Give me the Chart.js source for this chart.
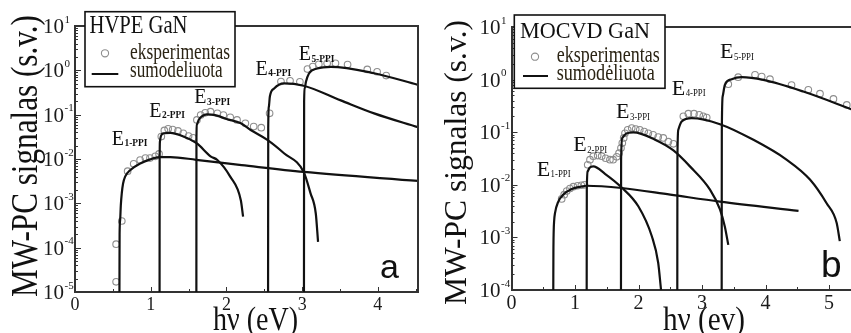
<!DOCTYPE html>
<html>
<head>
<meta charset="utf-8">
<title>MW-PC signalas</title>
<script src="https://cdn.jsdelivr.net/npm/chart.js@4.4.1/dist/chart.umd.min.js"></script>
<style>
  html, body { margin: 0; padding: 0; background: #fff; width: 851px; height: 333px; overflow: hidden; }
  canvas { position: absolute; top: 0; }
  #hvpe { left: 0; }
  #mocvd { left: 425px; }
</style>
</head>
<body>
<canvas id="hvpe" width="430" height="333"></canvas>
<canvas id="mocvd" width="440" height="333"></canvas>
<script>
// ---- HVPE GaN (a) ----  [hv eV, signal]
const hvpeExp = [
  [0.543, 1.7e-5], [0.543, 1.2e-4], [0.618, 4e-4], [0.695, 5.3e-3], [0.775, 7.8e-3],
  [0.86, 9.5e-3], [0.93, 1.05e-2], [0.99, 1.05e-2], [1.06, 1.15e-2], [1.11, 1.3e-2],
  [1.14, 0.032], [1.18, 0.044], [1.23, 0.048], [1.29, 0.046], [1.36, 0.043],
  [1.43, 0.038], [1.50, 0.033], [1.56, 0.030],
  [1.61, 0.076], [1.66, 0.098], [1.72, 0.11], [1.79, 0.117], [1.88, 0.107], [1.96, 0.098],
  [2.05, 0.087], [2.14, 0.076], [2.25, 0.064], [2.36, 0.054], [2.46, 0.051],
  [2.57, 0.107], [2.72, 0.56], [2.84, 0.58], [2.97, 0.55],
  [3.07, 1.07], [3.14, 1.22], [3.22, 1.37], [3.33, 1.44], [3.44, 1.44], [3.60, 1.35],
  [3.86, 1.05], [3.99, 0.93], [4.11, 0.76]
];
const hvpeE1 = [
  [0.587, 1e-5], [0.589, 2e-4], [0.596, 4.2e-4], [0.605, 9e-4], [0.618, 1.7e-3], [0.635, 2.8e-3],
  [0.662, 4e-3], [0.728, 5.6e-3], [0.861, 7.9e-3], [0.993, 9.8e-3], [1.12, 1.1e-2], [1.26, 1.1e-2],
  [1.6, 9.6e-3], [2.2, 7.3e-3], [3.02, 5.1e-3], [4.53, 3.2e-3]
];
const hvpeE2 = [
  [1.117, 1e-5], [1.118, 1e-2], [1.122, 2.5e-2], [1.135, 3.3e-2], [1.17, 3.8e-2], [1.26, 3.9e-2],
  [1.4, 3.4e-2], [1.61, 2.24e-2], [1.79, 1.15e-2], [1.88, 9.5e-3], [2.05, 4e-3], [2.19, 1.17e-3], [2.22, 5e-4]
];
const hvpeE3 = [
  [1.603, 1e-5], [1.604, 3e-2], [1.61, 6e-2], [1.633, 7.6e-2], [1.68, 9.3e-2], [1.74, 0.102],
  [1.85, 0.098], [2.0, 0.08], [2.19, 0.064], [2.32, 0.045], [2.54, 0.027], [2.76, 0.0135],
  [3.02, 5.1e-3], [3.11, 1.7e-3], [3.18, 5.9e-4], [3.21, 1.35e-4]
];
const hvpeE4 = [
  [2.55, 1e-5], [2.552, 0.05], [2.56, 0.15], [2.574, 0.26], [2.63, 0.39], [2.76, 0.51],
  [3.02, 0.45], [3.51, 0.21], [3.95, 0.107], [4.53, 0.052]
];
const hvpeE5 = [
  [3.024, 1e-5], [3.026, 0.2], [3.035, 0.4], [3.05, 0.55], [3.09, 0.85], [3.2, 1.1],
  [3.38, 1.2], [3.95, 0.86], [4.53, 0.47]
];
const hvpeXTicks = [0, 1, 2, 3, 4];
const hvpeDecades = [-5, -4, -3, -2, -1, 0, 1];
const hvpeLevels = ['1-PPI', '2-PPI', '3-PPI', '4-PPI', '5-PPI'];
const hvpeLevelAt = [[0.486, 0.0207], [0.98, 0.09], [1.576, 0.183], [2.384, 0.785], [2.954, 1.71]];

// ---- MOCVD GaN (b) ----
const mocvdExp = [
  [0.79, 5.4e-3], [0.83, 6.5e-3], [0.87, 7.6e-3], [0.92, 8.5e-3], [0.975, 9.2e-3],
  [1.04, 9.6e-3], [1.1, 9.8e-3], [1.15, 1.0e-2],
  [1.2, 0.024], [1.236, 0.030], [1.288, 0.035], [1.357, 0.036], [1.42, 0.035], [1.483, 0.032],
  [1.55, 0.030], [1.60, 0.030], [1.657, 0.034], [1.693, 0.040],
  [1.724, 0.05], [1.745, 0.062], [1.767, 0.078], [1.787, 0.095], [1.83, 0.111], [1.893, 0.12],
  [1.956, 0.115], [2.02, 0.111], [2.09, 0.103], [2.155, 0.095], [2.23, 0.089], [2.31, 0.081],
  [2.39, 0.078], [2.47, 0.066], [2.55, 0.06],
  [2.706, 0.2], [2.785, 0.225], [2.874, 0.225], [2.957, 0.214], [3.02, 0.2], [3.074, 0.19],
  [3.414, 0.82], [3.57, 1.11], [3.835, 1.23], [3.94, 1.14], [4.07, 1.02], [4.41, 0.79],
  [4.674, 0.64], [4.858, 0.54], [5.07, 0.43], [5.28, 0.33]
];
const mocvdE1 = [
  [0.658, 1e-4], [0.66, 5e-4], [0.664, 1.25e-3], [0.672, 2.1e-3], [0.685, 2.9e-3], [0.737, 4.8e-3],
  [0.816, 6.5e-3], [0.948, 8.3e-3], [1.105, 9.3e-3], [1.18, 9.6e-3], [1.735, 8.7e-3],
  [2.5, 6.5e-3], [3.28, 4.8e-3], [4.52, 3.2e-3]
];
const mocvdE2 = [
  [1.184, 1e-4], [1.186, 8e-3], [1.2, 1.8e-2], [1.23, 2.1e-2], [1.288, 2.24e-2], [1.472, 1.62e-2],
  [1.735, 8.9e-3], [1.997, 3.9e-3], [2.21, 1.05e-3], [2.31, 3.3e-4], [2.355, 1e-4]
];
const mocvdE3 = [
  [1.724, 1e-4], [1.726, 3e-2], [1.745, 7.8e-2], [1.8, 9.3e-2], [1.918, 9.9e-2], [2.26, 7.2e-2],
  [2.55, 4.5e-2], [2.81, 2.24e-2], [3.126, 8.1e-3], [3.283, 3.4e-3], [3.36, 1.6e-3], [3.414, 7.2e-4]
];
const mocvdE4 = [
  [2.611, 1e-4], [2.613, 3e-2], [2.627, 0.111], [2.68, 0.16], [2.838, 0.185], [3.283, 0.142],
  [3.81, 0.0716], [4.33, 0.0302], [4.7, 0.0126], [4.96, 4.5e-3], [5.12, 1.9e-3], [5.17, 8.5e-4]
];
const mocvdE5 = [
  [3.31, 1e-4], [3.312, 0.1], [3.326, 0.48], [3.36, 0.79], [3.468, 1.02], [3.625, 1.11],
  [3.965, 0.986], [4.595, 0.593], [5.4, 0.26]
];
const mocvdXTicks = [0, 1, 2, 3, 4, 5];
const mocvdDecades = [-4, -3, -2, -1, 0, 1];
const mocvdLevels = ['1-PPI', '2-PPI', '3-PPI', '4-PPI', '5-PPI'];
const mocvdLevelAt = [[0.396, 0.0149], [0.973, 0.043], [1.646, 0.185], [2.523, 0.513], [3.283, 2.55]];

// first installed serif face (width probe against monospace)
function pickSerif(names) {
  const c = document.createElement('canvas').getContext('2d');
  const probe = 'MWmwilGaN (s.v.) 0123456789';
  c.font = '40px monospace';
  const base = c.measureText(probe).width;
  for (const n of names) {
    c.font = '40px "' + n + '", monospace';
    if (Math.abs(c.measureText(probe).width - base) > 0.5) return '"' + n + '", serif';
  }
  return 'serif';
}
const SERIF = pickSerif(['Liberation Serif', 'Times New Roman', 'DejaVu Serif', 'Noto Serif']);
const SANS = '"Liberation Sans", Arial, sans-serif';
Chart.defaults.font.family = SERIF;

const toXY = pts => pts.map(([x, y]) => ({ x, y }));

function curve(pts) {
  return {
    data: toXY(pts), borderColor: '#111', borderWidth: 2.2, pointRadius: 0,
    cubicInterpolationMode: 'monotone', fill: false, order: 1
  };
}

function dots(pts) {
  return {
    data: toXY(pts), showLine: false, pointRadius: 3.3, pointBorderWidth: 1.1,
    pointBorderColor: '#8e8e8e', pointBackgroundColor: 'rgba(0,0,0,0)', borderColor: '#8e8e8e', order: 2
  };
}

// text squeezed horizontally to a given width
function fitText(ctx, text, x, y, font, width, color) {
  ctx.save();
  ctx.font = font;
  const w = ctx.measureText(text).width;
  ctx.translate(x, y);
  ctx.scale(width / w, 1);
  ctx.fillStyle = color || '#111';
  ctx.textAlign = 'left';
  ctx.textBaseline = 'alphabetic';
  ctx.fillText(text, 0, 0);
  ctx.restore();
}

function decor(cfg) {
  return {
    id: 'decor',
    afterDraw(chart) {
      const { ctx, chartArea: ca, scales: { x, y } } = chart;
      ctx.save();
      ctx.strokeStyle = '#333';
      ctx.lineWidth = 2;
      ctx.beginPath();
      ctx.moveTo(ca.left, ca.top);
      ctx.lineTo(ca.right, ca.top);
      if (cfg.rightFrame) ctx.lineTo(ca.right, ca.bottom);
      ctx.stroke();

      // inward ticks
      ctx.lineWidth = 1;
      ctx.beginPath();
      cfg.decades.forEach(d => {
        for (let m = 1; m <= 9; m++) {
          const v = m * Math.pow(10, d);
          if (v > y.max * 1.0001) break;
          const py = Math.round(y.getPixelForValue(v)) + 0.5;
          ctx.moveTo(ca.left, py);
          ctx.lineTo(ca.left + (m === 1 ? 6 : 3), py);
        }
      });
      for (let v = 0; v <= x.max; v += 0.5) {
        const px = Math.round(x.getPixelForValue(v)) + 0.5;
        ctx.moveTo(px, ca.bottom);
        ctx.lineTo(px, ca.bottom - (v % 1 === 0 ? 5 : 3));
      }
      ctx.stroke();

      // decade labels
      ctx.fillStyle = '#1a1a1a';
      ctx.textBaseline = 'alphabetic';
      cfg.decades.forEach(d => {
        const py = y.getPixelForValue(Math.pow(10, d));
        const lx = ca.left - 32;
        ctx.font = '21px ' + SERIF;
        ctx.fillText('10', lx, py + 7);
        const w = ctx.measureText('10').width;
        ctx.font = '11px ' + SERIF;
        ctx.fillText(String(d), lx + w + 0.5, py - 3.5);
      });

      // axis titles
      const yt = cfg.yTitle;
      ctx.save();
      ctx.translate(yt.x, yt.y);
      ctx.rotate(-Math.PI / 2);
      fitText(ctx, yt.text, 0, 0, yt.size + 'px ' + SERIF, yt.len, '#111');
      ctx.restore();
      const xt = cfg.xTitle;
      fitText(ctx, xt.text, xt.x, xt.y, xt.size + 'px ' + SERIF, xt.len, '#111');

      // level labels E_n-PPI
      cfg.levels.forEach((lab, i) => {
        const px = x.getPixelForValue(cfg.levelAt[i][0]);
        const py = y.getPixelForValue(cfg.levelAt[i][1]);
        ctx.fillStyle = '#111';
        ctx.font = cfg.eSize + 'px ' + SERIF;
        ctx.fillText('E', px, py);
        const w = ctx.measureText('E').width;
        fitText(ctx, lab, px + w + 0.5, py + 1.5, cfg.subFont + ' ' + SERIF, cfg.subLen, '#111');
      });

      // legend box
      const lg = cfg.legend;
      ctx.fillStyle = '#fff';
      ctx.fillRect(lg.box[0], lg.box[1], lg.box[2], lg.box[3]);
      ctx.strokeStyle = '#111';
      ctx.lineWidth = 1.6;
      ctx.strokeRect(lg.box[0], lg.box[1], lg.box[2], lg.box[3]);
      fitText(ctx, lg.title.text, lg.title.x, lg.title.y, lg.title.size + 'px ' + SERIF, lg.title.len, '#111');
      ctx.strokeStyle = '#8e8e8e';
      ctx.lineWidth = 1.1;
      ctx.beginPath();
      ctx.arc(lg.dot[0], lg.dot[1], 3.6, 0, Math.PI * 2);
      ctx.stroke();
      fitText(ctx, lg.exp.text, lg.exp.x, lg.exp.y, lg.exp.size + 'px ' + SERIF, lg.exp.len, '#2b2414');
      ctx.strokeStyle = '#111';
      ctx.lineWidth = 2;
      ctx.beginPath();
      ctx.moveTo(lg.line[0], lg.line[2]);
      ctx.lineTo(lg.line[1], lg.line[2]);
      ctx.stroke();
      fitText(ctx, lg.model.text, lg.model.x, lg.model.y, lg.model.size + 'px ' + SERIF, lg.model.len, '#2b2414');

      // panel letter
      ctx.fillStyle = '#111';
      ctx.font = cfg.letter.size + 'px ' + SANS;
      ctx.fillText(cfg.letter.text, cfg.letter.x, cfg.letter.y);
      ctx.restore();
    }
  };
}

function panel(el, sets, xMax, yMin, xTicks, yWidth, xHeight, padding, cfg) {
  return new Chart(el, {
    type: 'line',
    data: { datasets: sets },
    options: {
      responsive: false,
      animation: false,
      devicePixelRatio: 1,
      layout: { padding },
      plugins: { legend: { display: false }, tooltip: { enabled: false } },
      scales: {
        x: {
          type: 'linear', min: 0, max: xMax,
          afterBuildTicks: s => { s.ticks = xTicks.map(v => ({ value: v })); },
          afterFit: s => { s.height = xHeight; },
          ticks: { font: { size: cfg.xTickSize, family: SERIF }, color: '#1a1a1a', padding: 2, maxRotation: 0 },
          grid: { display: false, drawTicks: false },
          border: { display: true, color: '#333', width: 2 }
        },
        y: {
          type: 'logarithmic', min: yMin, max: 10,
          afterFit: s => { s.width = yWidth; },
          ticks: { display: false },
          grid: { display: false, drawTicks: false },
          border: { display: true, color: '#333', width: 2 }
        }
      }
    },
    plugins: [decor(cfg)]
  });
}

panel(document.getElementById('hvpe'),
  [dots(hvpeExp), curve(hvpeE1), curve(hvpeE2), curve(hvpeE3), curve(hvpeE4), curve(hvpeE5)],
  4.53, 1e-5, hvpeXTicks, 75, 41, { left: 0, top: 26, right: 12, bottom: 0 },
  {
    rightFrame: true, decades: hvpeDecades, levels: hvpeLevels, levelAt: hvpeLevelAt,
    eSize: 20, subFont: 'bold 10px', subLen: 23, xTickSize: 18,
    yTitle: { text: 'MW-PC signalas (s.v.)', x: 37, y: 297, size: 37, len: 282 },
    xTitle: { text: 'hν (eV)', x: 213, y: 330, size: 33, len: 85 },
    legend: {
      box: [85, 11.7, 150, 75],
      title: { text: 'HVPE GaN', x: 89.5, y: 33.3, size: 26, len: 98 },
      dot: [105, 53.3],
      exp: { text: 'eksperimentas', x: 130, y: 59, size: 23, len: 100 },
      line: [91.7, 118.3, 74],
      model: { text: 'sumodeliuota', x: 130, y: 77.3, size: 23, len: 92.7 }
    },
    letter: { text: 'a', x: 380, y: 278.3, size: 34 }
  });

panel(document.getElementById('mocvd'),
  [dots(mocvdExp), curve(mocvdE1), curve(mocvdE2), curve(mocvdE3), curve(mocvdE4), curve(mocvdE5)],
  5.4, 1e-4, mocvdXTicks, 86.5, 43, { left: 0, top: 27, right: 10.6, bottom: 0 },
  {
    rightFrame: false, decades: mocvdDecades, levels: mocvdLevels, levelAt: mocvdLevelAt,
    eSize: 22, subFont: '10px', subLen: 20, xTickSize: 20,
    yTitle: { text: 'MW-PC signalas (s.v.)', x: 41, y: 305, size: 32, len: 285 },
    xTitle: { text: 'hν (ev)', x: 238, y: 330, size: 33, len: 82 },
    legend: {
      box: [89.3, 15, 150.7, 73.3],
      title: { text: 'MOCVD GaN', x: 95, y: 38.3, size: 24, len: 130 },
      dot: [110, 56.7],
      exp: { text: 'eksperimentas', x: 131.7, y: 61.7, size: 23, len: 103 },
      line: [98, 123, 76],
      model: { text: 'sumodėliuota', x: 131.7, y: 80, size: 23, len: 98 }
    },
    letter: { text: 'b', x: 396, y: 276.7, size: 37 }
  });
</script>
</body>
</html>
